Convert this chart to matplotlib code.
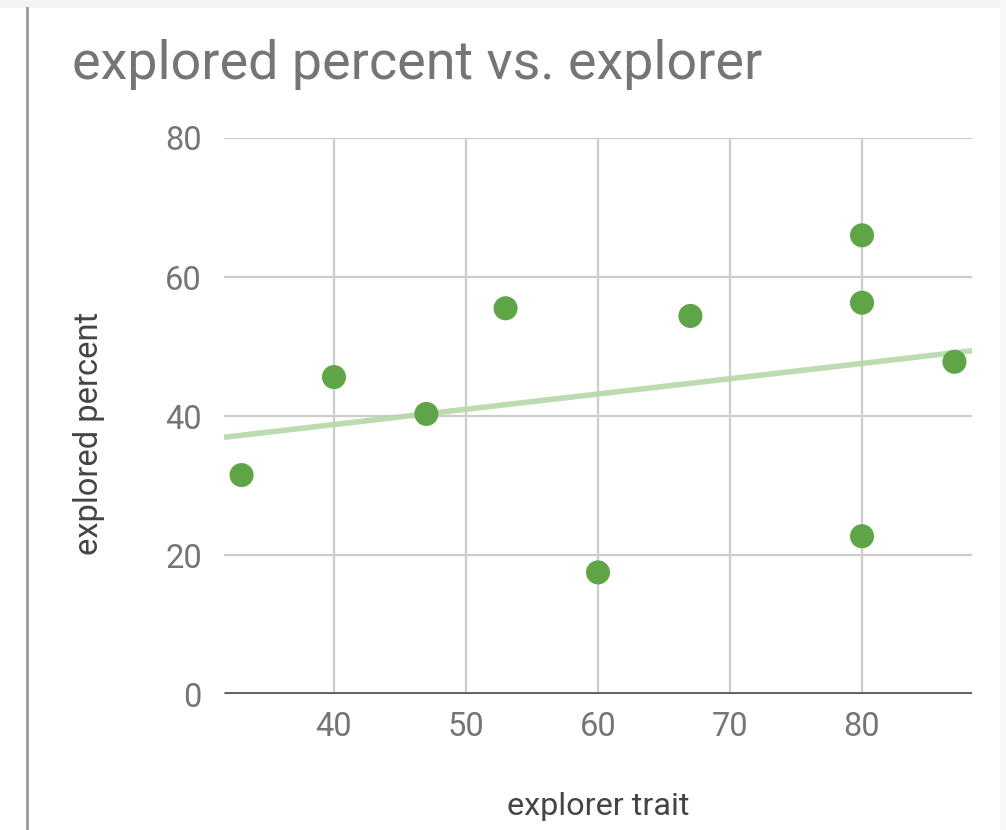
import numpy as np
import matplotlib
matplotlib.use("Agg")
import matplotlib.pyplot as plt
from matplotlib.patches import Rectangle
from matplotlib.lines import Line2D

plt.rcParams['font.family'] = ['Roboto', 'DejaVu Sans']

# Data
explorer_trait = [33, 40, 47, 53, 60, 67, 80, 80, 80, 87]
explored_percent = [31.5, 45.6, 40.3, 55.5, 17.5, 54.4, 66.0, 56.3, 22.7, 47.8]
x_ticks = [40, 50, 60, 70, 80]
y_ticks = [0, 20, 40, 60, 80]

title = "explored percent vs. explorer"
x_label = "explorer trait"
y_label = "explored percent"

W, H = 1006, 830
fig = plt.figure(figsize=(W / 100, H / 100), dpi=100)
fig.patch.set_facecolor("white")

# Page chrome around the chart card
fig.add_artist(Rectangle((0, 1 - 8 / H), 1, 8 / H, transform=fig.transFigure,
                         facecolor="#f4f4f4", edgecolor="none", zorder=0))
fig.add_artist(Rectangle((1000 / W, 0), 6 / W, 1, transform=fig.transFigure,
                         facecolor="#f7f7f7", edgecolor="none", zorder=0))
fig.add_artist(Line2D([27 / W, 27 / W], [0, 1 - 8 / H], transform=fig.transFigure,
                      color="#9a9a9a", lw=2))

ax = fig.add_axes([224 / W, 1 - 694 / H, (972 - 224) / W, (694 - 138) / H])
ax.set_xlim(31.67, 88.33)
ax.set_ylim(0, 80)

ax.set_xticks(x_ticks)
ax.set_yticks(y_ticks)
ax.set_axisbelow(True)
ax.grid(True, color="#cccccc", lw=1.6)
for s in ax.spines.values():
    s.set_visible(False)
ax.axhline(0, color="#5f5f5f", lw=3.5, zorder=2, solid_capstyle="butt")
ax.tick_params(length=0, labelsize=23.5, colors="#757575", pad=12)
ax.tick_params(axis="y", pad=16)

# Linear trendline
slope, intercept = np.polyfit(explorer_trait, explored_percent, 1)
xs = np.array(ax.get_xlim())
ax.plot(xs, slope * xs + intercept, color="#b6d7a8", lw=4, alpha=0.9,
        solid_capstyle="butt", zorder=3, clip_on=False)

ax.scatter(explorer_trait, explored_percent, s=300, color="#5fa547",
           edgecolors="none", zorder=4, clip_on=False)

fig.text(72 / W, 1 - 65 / H, title, fontsize=38.8, color="#757575",
         ha="left", va="center")
fig.text(598 / W, 1 - 806 / H, x_label, fontsize=23.3, color="#444444",
         ha="center", va="center")
fig.text(89 / W, 1 - 433 / H, y_label, fontsize=23.5, color="#444444",
         ha="center", va="center", rotation=90)

fig.savefig("out.png", dpi=100)
